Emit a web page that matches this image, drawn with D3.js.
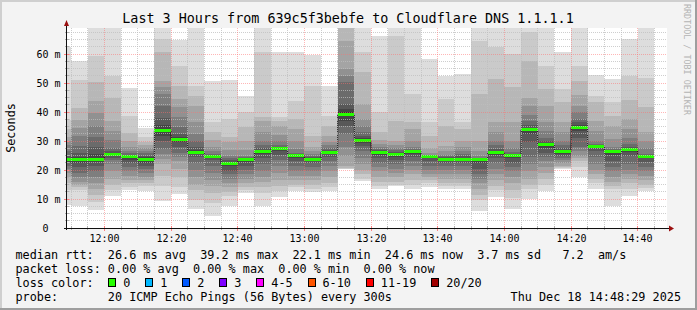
<!DOCTYPE html>
<html>
<head>
<meta charset="utf-8">
<script src="https://cdn.jsdelivr.net/npm/d3@7"></script>
<style>
  html, body { margin: 0; padding: 0; background: #f3f3f3; }
  svg { display: block; }
  text { font-family: "DejaVu Sans Mono", monospace; fill: #000; white-space: pre; }
</style>
</head>
<body>
<div id="chart"></div>
<script>
/* ---------- data ---------- */
const day = "2025-12-18";
const windowStart = "11:48:48";
const windowEnd = "14:48:48";

// end time of each 5 minute step
const binEnds = ["11:50","11:55","12:00","12:05","12:10","12:15","12:20","12:25","12:30","12:35",
  "12:40","12:45","12:50","12:55","13:00","13:05","13:10","13:15","13:20","13:25",
  "13:30","13:35","13:40","13:45","13:50","13:55","14:00","14:05","14:10","14:15",
  "14:20","14:25","14:30","14:35","14:40","14:45"];

// median rtt, ms
const medianMs = [23.5, 23.5, 23.8, 25.5, 24.7, 23.6, 33.6, 30.5, 26.1, 24.7,
  22.1, 23.5, 26.4, 27.3, 24.9, 23.6, 26.1, 39.2, 30.1, 26.1,
  25.3, 26.4, 24.6, 23.8, 23.8, 23.5, 26.1, 24.9, 33.9, 28.7,
  26.3, 34.7, 28.2, 26.3, 27.0, 24.6];

// the 20 sorted pings of every step, ms
const pingsMs = [
  [8.0, 13.0, 15.5, 17.5, 19.0, 20.5, 21.5, 22.3, 22.9, 23.2, 23.6, 24.2, 25.0, 26.5, 28.5, 30.0, 31.5, 34.0, 37.4, 62.6],
  [7.5, 13.2, 14.0, 15.0, 16.0, 17.5, 19.0, 21.0, 22.5, 23.2, 23.8, 24.5, 25.9, 28.2, 31.6, 34.5, 37.4, 41.4, 51.1, 57.5],
  [6.3, 9.0, 11.3, 13.5, 15.5, 17.5, 19.5, 21.5, 22.8, 23.6, 24.3, 25.5, 28.0, 31.5, 35.1, 39.7, 43.7, 50.5, 59.2, 72],
  [10.9, 13.0, 15.0, 17.0, 19.5, 22.0, 23.3, 24.0, 24.8, 25.3, 25.7, 25.9, 26.4, 27.6, 30.5, 33.3, 36.8, 44.8, 52.3, 72],
  [13.0, 14.2, 15.5, 16.5, 18.0, 19.5, 21.0, 22.5, 23.6, 24.3, 24.9, 25.1, 25.3, 25.8, 26.5, 27.8, 29.9, 32.8, 38.5, 48.3],
  [12.9, 14.5, 15.5, 16.5, 17.5, 19.0, 20.5, 21.5, 22.5, 23.2, 23.9, 24.4, 25.0, 25.8, 26.5, 27.5, 28.5, 29.5, 31.5, 34.5],
  [9.4, 14.6, 18.0, 22.1, 23.8, 25.5, 27.3, 30.0, 31.8, 33.0, 34.2, 35.5, 38.0, 42.2, 46.2, 48.5, 50.8, 60.6, 65.2, 72],
  [11.8, 14.0, 17.5, 20.5, 23.0, 24.5, 26.0, 28.0, 29.5, 30.2, 30.8, 31.4, 32.5, 34.8, 38.2, 41.6, 44.5, 49.1, 56.0, 65.0],
  [6.6, 9.5, 13.0, 15.0, 17.5, 20.0, 22.5, 24.5, 25.4, 25.9, 26.3, 26.8, 27.8, 30.0, 32.4, 36.4, 42.2, 45.6, 49.1, 72],
  [4.3, 8.5, 12.0, 14.5, 16.5, 19.0, 21.5, 23.5, 24.3, 24.6, 24.8, 25.0, 25.2, 25.5, 26.5, 28.0, 30.5, 33.0, 36.4, 50.8],
  [7.7, 11.0, 12.5, 14.0, 15.5, 17.0, 18.5, 19.8, 21.3, 22.1, 22.6, 22.9, 23.3, 24.0, 25.0, 27.0, 29.5, 31.5, 37.6, 51.2],
  [12.0, 13.0, 14.0, 15.5, 17.0, 18.5, 20.0, 21.5, 22.7, 23.3, 23.7, 23.9, 24.1, 24.5, 25.0, 27.0, 30.1, 34.7, 39.9, 45.6],
  [7.7, 12.0, 14.0, 16.0, 17.5, 19.5, 22.0, 24.0, 25.5, 26.5, 26.8, 27.0, 27.5, 28.5, 30.0, 33.0, 37.0, 38.2, 60.6, 72],
  [10.6, 12.8, 14.5, 16.5, 19.0, 21.5, 23.5, 25.2, 26.5, 27.1, 27.4, 27.6, 28.0, 28.8, 30.0, 32.0, 35.3, 37.0, 38.2, 60.6],
  [12.9, 14.0, 15.0, 16.5, 18.0, 19.5, 21.5, 23.0, 24.3, 24.8, 25.0, 25.2, 25.5, 26.0, 27.3, 30.1, 34.0, 37.6, 43.9, 60.8],
  [12.3, 13.5, 15.0, 16.5, 18.0, 19.5, 21.0, 22.5, 23.3, 23.6, 24.0, 24.2, 24.4, 24.8, 25.5, 26.5, 28.0, 31.8, 49.1, 59.6],
  [12.9, 14.0, 15.5, 17.5, 19.5, 21.5, 23.2, 24.5, 25.5, 26.0, 26.3, 26.6, 27.0, 27.5, 28.5, 29.5, 31.8, 35.3, 38.7, 49.1],
  [20.3, 20.5, 20.8, 21.5, 25.0, 28.0, 32.4, 35.3, 37.0, 38.5, 40.0, 41.0, 42.8, 50.2, 52.5, 54.8, 64.6, 71, 73, 75],
  [16.3, 17.0, 18.5, 20.0, 22.0, 24.0, 26.5, 28.4, 29.2, 29.8, 30.5, 31.0, 31.8, 33.2, 35.3, 37.6, 42.8, 53.7, 60.6, 72],
  [13.5, 14.5, 16.0, 17.5, 19.5, 21.0, 22.5, 24.0, 25.2, 25.9, 26.3, 26.6, 26.9, 27.3, 28.0, 29.0, 30.5, 33.0, 39.9, 66.3],
  [14.6, 15.0, 16.0, 17.5, 19.0, 20.5, 22.0, 23.6, 24.6, 25.2, 25.6, 25.9, 26.3, 26.8, 27.5, 28.5, 30.1, 37.0, 66.3, 72],
  [13.5, 15.0, 16.5, 18.5, 20.0, 21.5, 23.0, 24.5, 25.6, 26.2, 26.5, 26.7, 26.9, 27.2, 27.8, 30.1, 34.1, 36.4, 46.2, 72],
  [14.0, 15.5, 16.5, 17.5, 18.5, 20.0, 21.5, 23.0, 24.0, 24.5, 24.7, 24.8, 24.9, 25.0, 25.3, 26.0, 27.5, 31.8, 36.4, 58.3],
  [13.5, 14.5, 15.5, 17.0, 18.5, 20.0, 21.5, 22.5, 23.2, 23.6, 24.0, 24.2, 24.4, 24.8, 25.3, 26.7, 28.4, 35.3, 44.5, 52.5],
  [13.5, 14.5, 15.5, 17.0, 18.5, 20.0, 21.5, 22.5, 23.2, 23.6, 24.0, 24.3, 24.8, 25.5, 26.5, 27.8, 30.0, 34.1, 36.4, 53.1],
  [6.0, 9.5, 11.5, 13.5, 15.5, 17.0, 18.5, 20.5, 22.5, 23.3, 23.7, 23.8, 24.0, 24.3, 25.0, 26.5, 30.1, 46.2, 64.6, 72],
  [10.6, 13.0, 14.5, 16.5, 18.5, 20.5, 22.5, 24.0, 25.2, 25.9, 26.3, 26.6, 27.2, 28.5, 30.1, 33.0, 36.4, 51.4, 62.3, 72],
  [6.6, 10.5, 13.0, 15.5, 17.5, 19.5, 21.0, 22.5, 24.0, 24.7, 25.1, 25.3, 25.6, 26.2, 27.5, 30.1, 36.4, 48.5, 60.0, 72],
  [10.0, 13.5, 15.0, 17.0, 19.5, 22.0, 24.5, 29.5, 32.5, 33.6, 34.2, 34.6, 35.5, 37.0, 39.0, 42.2, 45.0, 57.7, 67.5, 72],
  [12.9, 15.0, 17.0, 19.0, 21.0, 23.0, 24.5, 26.0, 27.5, 28.5, 29.0, 29.3, 30.0, 31.0, 33.6, 36.4, 42.2, 47.9, 56.0, 72],
  [20.3, 20.6, 21.0, 21.5, 22.5, 23.5, 24.0, 24.9, 25.6, 26.1, 26.6, 27.0, 27.5, 28.5, 30.0, 33.0, 36.4, 43.3, 47.9, 60.8],
  [17.5, 21.0, 23.0, 24.0, 25.0, 26.5, 28.0, 31.0, 33.5, 34.4, 35.1, 35.6, 36.4, 37.5, 39.9, 42.2, 46.0, 50.8, 56.0, 72],
  [13.5, 15.5, 17.0, 18.5, 20.0, 22.0, 24.5, 26.5, 27.5, 28.1, 28.3, 28.5, 28.7, 29.0, 30.1, 33.6, 37.0, 43.3, 45.6, 52.8],
  [7.7, 13.5, 14.5, 16.0, 17.5, 19.5, 21.0, 23.2, 25.2, 26.1, 26.5, 26.7, 26.9, 27.3, 28.0, 30.7, 35.3, 38.7, 43.3, 51.4],
  [11.2, 13.5, 15.5, 17.0, 18.5, 20.0, 22.0, 24.9, 26.2, 26.8, 27.2, 27.5, 28.0, 29.0, 31.0, 34.1, 37.6, 44.0, 52.5, 65.2],
  [12.9, 13.8, 15.0, 16.5, 18.0, 19.5, 21.0, 22.6, 24.0, 24.4, 24.7, 24.9, 25.0, 25.5, 27.5, 30.1, 33.0, 41.6, 51.9, 72]
];

const yTicks = [0, 10, 20, 30, 40, 50, 60];
const yMax = 69;

const lossLabels = ["0", "1", "2", "3", "4-5", "6-10", "11-19", "20/20"];
const lossColors = ["#26ff00", "#00b8ff", "#0059ff", "#7e00ff", "#ff00ff", "#ff5500", "#ff0000", "#a10000"];

const titleText = "Last 3 Hours from 639c5f3bebfe to Cloudflare DNS 1.1.1.1";
const legendLines = [
  "median rtt:  26.6 ms avg  39.2 ms max  22.1 ms min  24.6 ms now  3.7 ms sd   7.2  am/s",
  "packet loss: 0.00 % avg  0.00 % max  0.00 % min  0.00 % now",
  "loss color:",
  "probe:       20 ICMP Echo Pings (56 Bytes) every 300s"
];
const dateText = "Thu Dec 18 14:48:29 2025";

/* ---------- layout ---------- */
const W = 697, H = 310;
const plot = { left: 67, right: 667, top: 28, bottom: 228 };
const smokeColors = ["#dddddd", "#cacaca", "#b7b7b7", "#a4a4a4", "#919191",
                     "#7e7e7e", "#6b6b6b", "#585858", "#454545", "#323232"];
const px = v => Math.floor(v) + 0.5;

const parseT = d3.utcParse("%Y-%m-%d %H:%M:%S");
const parseM = d3.utcParse("%Y-%m-%d %H:%M");
const t0 = parseT(`${day} ${windowStart}`);
const t1 = parseT(`${day} ${windowEnd}`);

const bins = binEnds.map((s, i) => {
  const end = parseM(`${day} ${s}`);
  return { start: d3.utcMinute.offset(end, -5), end, median: medianMs[i], pings: pingsMs[i] };
});

const x = d3.scaleUtc().domain([t0, t1]).range([plot.left, plot.right]);
const y = d3.scaleLinear().domain([0, yMax]).range([plot.bottom, plot.top]);

const svg = d3.select("#chart").append("svg")
  .attr("width", W)
  .attr("height", H)
  .attr("viewBox", `0 0 ${W} ${H}`);

// background + shaded frame
svg.append("rect").attr("width", W).attr("height", H).attr("fill", "#f3f3f3");
svg.append("path").attr("d", `M0,${H} V0 H${W}`).attr("fill", "none")
  .attr("stroke", "#cfcfcf").attr("stroke-width", 4);
svg.append("path").attr("d", `M0,${H} H${W} V0`).attr("fill", "none")
  .attr("stroke", "#9e9e9e").attr("stroke-width", 4);

// canvas
svg.append("rect")
  .attr("x", plot.left).attr("y", plot.top)
  .attr("width", plot.right - plot.left).attr("height", plot.bottom - plot.top)
  .attr("fill", "#fff");

svg.append("defs").append("clipPath").attr("id", "plotClip")
  .append("rect")
  .attr("x", plot.left).attr("y", plot.top)
  .attr("width", plot.right - plot.left).attr("height", plot.bottom - plot.top);

const g = svg.append("g").attr("clip-path", "url(#plotClip)");

// Smoke: band i spans ping[i] .. ping[19-i], inner bands darker
const smoke = g.append("g").attr("shape-rendering", "crispEdges");
bins.forEach(b => {
  smokeColors.forEach((c, i) => {
    const lo = b.pings[i], hi = b.pings[b.pings.length - 1 - i];
    smoke.append("rect")
      .attr("x", x(b.start))
      .attr("width", x(b.end) - x(b.start))
      .attr("y", y(hi))
      .attr("height", y(lo) - y(hi))
      .attr("fill", c);
  });
});

// median: thin dark step line + loss coloured bars
const stepPts = bins.map(b => [x(b.start), y(b.median)]);
stepPts.push([x(bins[bins.length - 1].end), y(bins[bins.length - 1].median)]);
g.append("path")
  .attr("d", d3.line().curve(d3.curveStepAfter)(stepPts))
  .attr("fill", "none")
  .attr("stroke", "#202020")
  .attr("stroke-width", 1);

g.append("g").attr("shape-rendering", "crispEdges")
  .selectAll("rect")
  .data(bins)
  .enter().append("rect")
  .attr("x", d => x(d.start))
  .attr("width", d => x(d.end) - x(d.start))
  .attr("y", d => y(d.median) - 1.5)
  .attr("height", 3)
  .attr("fill", lossColors[0]);

// Grid (drawn on top, dotted)
const grid = svg.append("g");
const minorY = d3.range(2.5, yMax, 2.5).filter(v => v % 10 !== 0);
const minorX = x.ticks(d3.utcMinute.every(5)).filter(t => t.getUTCMinutes() % 20 !== 0);
const majorX = x.ticks(d3.utcMinute.every(20));

grid.selectAll(".gy").data(minorY).enter().append("line")
  .attr("x1", plot.left).attr("x2", plot.right)
  .attr("y1", d => px(y(d))).attr("y2", d => px(y(d)))
  .attr("stroke", "rgba(190,190,190,0.75)").attr("stroke-dasharray", "1,1");
grid.selectAll(".gx").data(minorX).enter().append("line")
  .attr("y1", plot.top).attr("y2", plot.bottom)
  .attr("x1", d => px(x(d))).attr("x2", d => px(x(d)))
  .attr("stroke", "rgba(190,190,190,0.75)").attr("stroke-dasharray", "1,1");
grid.selectAll(".my").data(yTicks.filter(d => d > 0)).enter().append("line")
  .attr("x1", plot.left).attr("x2", plot.right)
  .attr("y1", d => px(y(d))).attr("y2", d => px(y(d)))
  .attr("stroke", "rgba(255,110,110,0.5)").attr("stroke-dasharray", "1,1");
grid.selectAll(".mx").data(majorX).enter().append("line")
  .attr("y1", plot.top).attr("y2", plot.bottom)
  .attr("x1", d => px(x(d))).attr("x2", d => px(x(d)))
  .attr("stroke", "rgba(255,110,110,0.5)").attr("stroke-dasharray", "1,1");

// Axes, small ticks and arrows
const axes = svg.append("g");
axes.selectAll(".tyn").data(minorY).enter().append("line")
  .attr("x1", plot.left - 2).attr("x2", plot.left + 2)
  .attr("y1", d => px(y(d))).attr("y2", d => px(y(d)))
  .attr("stroke", "#b0b0b0");
axes.selectAll(".tym").data(yTicks).enter().append("line")
  .attr("x1", plot.left - 3).attr("x2", plot.left + 2)
  .attr("y1", d => px(y(d))).attr("y2", d => px(y(d)))
  .attr("stroke", "#ff8080");
axes.selectAll(".txn").data(minorX).enter().append("line")
  .attr("y1", plot.bottom - 2).attr("y2", plot.bottom + 2)
  .attr("x1", d => px(x(d))).attr("x2", d => px(x(d)))
  .attr("stroke", "#b0b0b0");
axes.selectAll(".txm").data(majorX).enter().append("line")
  .attr("y1", plot.bottom - 2).attr("y2", plot.bottom + 3)
  .attr("x1", d => px(x(d))).attr("x2", d => px(x(d)))
  .attr("stroke", "#ff8080");

axes.append("line")
  .attr("x1", plot.left - 0.5).attr("x2", plot.left - 0.5)
  .attr("y1", plot.bottom + 2).attr("y2", plot.top - 3)
  .attr("stroke", "#101010");
axes.append("line")
  .attr("x1", plot.left - 3).attr("x2", plot.right + 2)
  .attr("y1", plot.bottom + 0.5).attr("y2", plot.bottom + 0.5)
  .attr("stroke", "#101010");
axes.append("path")
  .attr("d", `M${plot.left - 3},${plot.top - 2} L${plot.left + 2},${plot.top - 2} L${plot.left - 0.5},${plot.top - 8} Z`)
  .attr("fill", "#9b1010");
axes.append("path")
  .attr("d", `M${plot.right + 2},${plot.bottom - 2.5} L${plot.right + 2},${plot.bottom + 3.5} L${plot.right + 7},${plot.bottom + 0.5} Z`)
  .attr("fill", "#9b1010");

// Axis labels
const axisFont = "10px";
svg.append("g").selectAll("text").data(yTicks).enter().append("text")
  .attr("x", d => d === 0 ? 60.5 - 2 * 6.02 : 60.5)
  .attr("y", d => y(d) + 3.5)
  .attr("text-anchor", "end")
  .style("font-size", axisFont)
  .text(d => d === 0 ? "0" : `${d} m`);

svg.append("g").selectAll("text").data(majorX).enter().append("text")
  .attr("x", d => px(x(d)))
  .attr("y", 241.5)
  .attr("text-anchor", "middle")
  .style("font-size", axisFont)
  .text(d => d3.utcFormat("%H:%M")(d));

// Titles
svg.append("text")
  .attr("x", 348).attr("y", 23)
  .attr("text-anchor", "middle")
  .style("font-size", "13.4px")
  .text(titleText);

svg.append("text")
  .attr("transform", "translate(15,128) rotate(-90)")
  .attr("text-anchor", "middle")
  .style("font-size", "11.8px")
  .text("Seconds");

svg.append("text")
  .attr("transform", "translate(683.5,4) rotate(90)")
  .style("font-size", "8.4px")
  .style("fill", "#b4b4b4")
  .text("RRDTOOL / TOBI OETIKER");

// Legend
const legendFont = "11.8px";
const charW = 7.1;
const lineY = [258.5, 272.5, 286.5, 300.5];
legendLines.forEach((s, i) => {
  svg.append("text")
    .attr("xml:space", "preserve")
    .attr("x", 15.5).attr("y", lineY[i])
    .style("font-size", legendFont)
    .text(s);
});

let bx = 108.3;
lossLabels.forEach((lab, i) => {
  svg.append("rect")
    .attr("x", Math.round(bx) + 0.5).attr("y", 278.5)
    .attr("width", 7).attr("height", 8)
    .attr("fill", lossColors[i])
    .attr("stroke", "#000");
  svg.append("text")
    .attr("x", bx + 15).attr("y", lineY[2])
    .style("font-size", legendFont)
    .text(lab);
  bx = bx + 15 + lab.length * charW + 14.9;
});

svg.append("text")
  .attr("x", 681).attr("y", lineY[3])
  .attr("text-anchor", "end")
  .style("font-size", legendFont)
  .text(dateText);
</script>
</body>
</html>
